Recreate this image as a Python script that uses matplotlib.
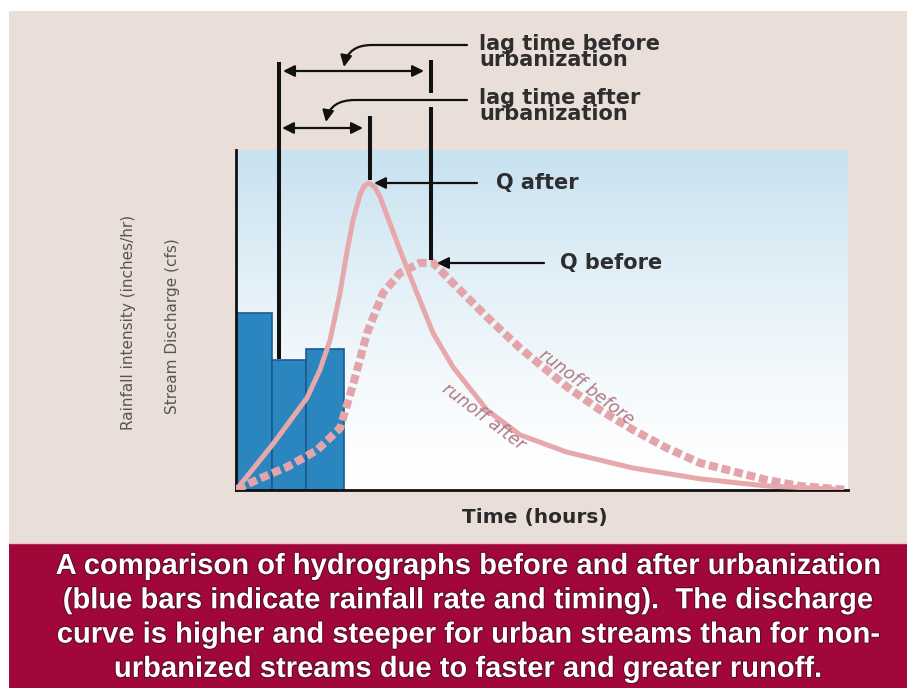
import numpy as np
import matplotlib.pyplot as plt
from matplotlib.patches import Rectangle, FancyArrowPatch
from matplotlib.path import Path
import matplotlib.patheffects as pe

# rainfall bars (time in hours, intensity in chart units)
bar_left = [0.0, 1.41, 2.75]
bar_width = [1.41, 1.34, 1.49]
bar_height = [5.24, 3.85, 4.17]

# runoff after urbanization (solid)
after_t = [0.0, 0.16, 1.45, 2.78, 3.29, 3.69, 4.08, 4.35, 4.59, 4.86, 5.02, 5.22, 5.45, 5.65,
           6.43, 6.94, 7.73, 8.51, 9.84, 11.14, 12.98, 15.57, 18.2, 20.8, 23.4]
after_q = [0.0, 0.15, 1.36, 2.72, 3.55, 4.44, 5.83, 7.04, 7.99, 8.73, 8.99, 9.08, 8.96, 8.67,
           7.10, 6.12, 4.64, 3.64, 2.37, 1.63, 1.12, 0.65, 0.33, 0.12, 0.03]

# runoff before urbanization (dashed)
before_t = [0.04, 1.06, 2.0, 3.18, 4.08, 4.59, 5.14, 5.76, 6.43, 7.22, 7.73, 8.51,
            9.84, 11.14, 12.98, 14.27, 15.57, 16.9, 18.2, 20.8, 22.1, 24.0]
before_q = [0.03, 0.38, 0.68, 1.18, 1.83, 3.11, 4.64, 5.83, 6.42, 6.72, 6.72, 6.12,
            5.12, 4.20, 3.05, 2.37, 1.78, 1.24, 0.80, 0.30, 0.12, 0.0]

caption = ["A comparison of hydrographs before and after urbanization",
           "(blue bars indicate rainfall rate and timing).  The discharge",
           "curve is higher and steeper for urban streams than for non-",
           "urbanized streams due to faster and greater runoff."]

W, H = 907, 688
fig = plt.figure(figsize=(W / 100, H / 100), dpi=100)

# background layer (pixel coordinates)
bg = fig.add_axes([0, 0, 1, 1])
bg.set_xlim(0, W)
bg.set_ylim(H, 0)
bg.axis('off')
bg.add_patch(Rectangle((9, 11), W - 9, H - 11, color='#E9DFD8', lw=0))
bg.add_patch(Rectangle((9, 543), W - 9, H - 543, color='#A2073A', lw=0))
bg.plot([9, W], [543, 543], color='#F2C4C4', lw=1)

# chart
ax = fig.add_axes([236 / W, (H - 490) / H, 612 / W, 340 / H])
ax.set_xlim(0, 24)
ax.set_ylim(0, 10.06)
t = np.linspace(0, 1, 256)[:, None] ** 1.4
top = np.array([0.78, 0.885, 0.94])
grad = 1 - (1 - top) * t[..., None] * np.ones((1, 2, 1))
ax.imshow(grad, extent=(0, 24, 0, 10.06), aspect='auto', origin='lower', zorder=0)

ax.bar(bar_left, bar_height, width=bar_width, align='edge', color='#2B86BF',
       edgecolor='#185C8C', lw=1.2, zorder=2)
ax.plot(before_t, before_q, color='#E3A5A9', lw=5.8, dashes=(1.1, 0.5),
        solid_capstyle='butt', zorder=3)
ax.plot(after_t, after_q, color='#E6A8AA', lw=3.6, solid_joinstyle='round', zorder=4)

ax.text(9.69, 2.16, 'runoff after', rotation=-37, ha='center', va='center',
        family='DejaVu Sans', size=12.5, style='italic', color='#B07A86', zorder=5)
ax.text(13.76, 3.05, 'runoff before', rotation=-37, ha='center', va='center',
        family='DejaVu Sans', size=12.5, style='italic', color='#B07A86', zorder=5)

for s in ['top', 'right']:
    ax.spines[s].set_visible(False)
for s in ['left', 'bottom']:
    ax.spines[s].set_linewidth(2)
    ax.spines[s].set_color('#111111')
ax.set_xticks([])
ax.set_yticks([])

# overlay with annotations (pixel coordinates)
ov = fig.add_axes([0, 0, 1, 1])
ov.set_xlim(0, W)
ov.set_ylim(H, 0)
ov.axis('off')
ov.patch.set_alpha(0)

vk = dict(color='#111111', lw=2.9, solid_capstyle='butt')
ov.plot([279, 279], [62, 359], **vk)
ov.plot([431, 431], [60, 93], **vk)
ov.plot([431, 431], [107, 260], **vk)
ov.plot([370, 370], [116, 180], **vk)

ak = dict(mutation_scale=17, lw=1.6, color='#111111')
ov.add_patch(FancyArrowPatch((283, 71), (424, 71), arrowstyle='<|-|>', shrinkA=0, shrinkB=0, **ak))
ov.add_patch(FancyArrowPatch((282, 128), (363, 128), arrowstyle='<|-|>', shrinkA=0, shrinkB=0, **ak))
ov.add_patch(FancyArrowPatch((477, 183), (374, 183), arrowstyle='-|>', shrinkA=0, shrinkB=0, **ak))
ov.add_patch(FancyArrowPatch((544, 263), (437, 263), arrowstyle='-|>', shrinkA=0, shrinkB=0, **ak))

for (x0, y0, xb, tip) in [(467, 45, 372, (344, 67)), (467, 100, 355, (326, 122))]:
    p = Path([(x0, y0), (xb, y0), (tip[0] + 4, y0), tip],
             [Path.MOVETO, Path.LINETO, Path.CURVE3, Path.CURVE3])
    ov.add_patch(FancyArrowPatch(path=p, arrowstyle='-|>', shrinkA=0, shrinkB=0, **ak))

tk = dict(family='DejaVu Sans', weight='bold', size=15, color='#2E2E2E', ha='left')
ov.text(479, 34, 'lag time before\nurbanization', va='top', linespacing=0.78, **tk)
ov.text(479, 88, 'lag time after\nurbanization', va='top', linespacing=0.78, **tk)
ov.text(496, 183, 'Q after', va='center', **tk)
ov.text(560, 263, 'Q before', va='center', **tk)

ov.text(535, 517, 'Time (hours)', family='DejaVu Sans', weight='bold', size=14.5,
        color='#2A2A2A', ha='center', va='center')

yk = dict(family='DejaVu Sans', size=11, color='#555555',
          rotation=90, ha='center', va='center')
ov.text(128, 322, 'Rainfall intensity (inches/hr)', **yk)
ov.text(172, 326, 'Stream Discharge (cfs)', **yk)

for i, line in enumerate(caption):
    ov.text(468, 566 + 34.3 * i, line, family='Liberation Sans', weight='bold', size=21,
            color='white', ha='center', va='center',
            path_effects=[pe.withStroke(linewidth=1.5, foreground='#5E0A24')])

fig.savefig('out.png', dpi=100)
